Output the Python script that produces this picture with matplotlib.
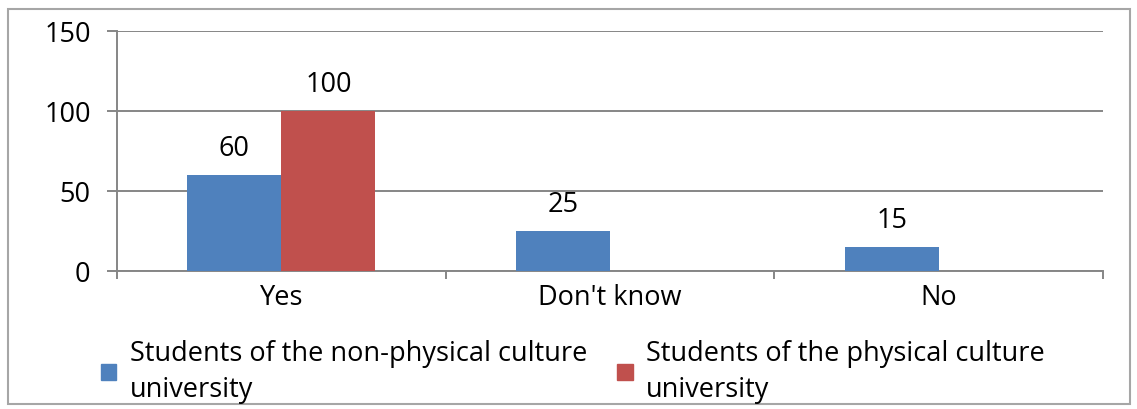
import matplotlib
matplotlib.use("Agg")
import matplotlib.pyplot as plt
from matplotlib.patches import Patch, Rectangle
import numpy as np

categories = ["Yes", "Don't know", "No"]
non_physical = [60, 25, 15]
physical = [100, 0, 0]
series_names = ["Students of the non-physical culture\nuniversity",
                "Students of the physical culture\nuniversity"]
yticks = [0, 50, 100, 150]

plt.rcParams['font.family'] = ['Open Sans', 'DejaVu Sans']
FS = 19.5
blue = "#4F81BD"
red = "#C0504D"
grid_c = "#868686"

fig = plt.figure(figsize=(11.37, 4.10), dpi=100)
fig.patches.append(Rectangle((8/1137, 5/410), 1122/1137, 395/410, transform=fig.transFigure,
                             fill=False, edgecolor="#A6A6A6", linewidth=1.5))
ax = fig.add_axes([117/1137, 138/410, 986/1137, 240/410])

x = np.arange(len(categories))
w = 0.286
b1 = ax.bar(x - w/2, non_physical, w, color=blue, zorder=3)
b2 = ax.bar(x + w/2, physical, w, color=red, zorder=3)
for bars, vals in ((b1, non_physical), (b2, physical)):
    for r, v in zip(bars, vals):
        if v:
            ax.annotate(str(v), (r.get_x() + r.get_width()/2, v), xytext=(0, 9),
                        textcoords="offset points", ha="center", va="bottom", fontsize=FS)

ax.set_xlim(-0.5, len(categories) - 0.5)
ax.set_ylim(0, 150)
ax.set_yticks(yticks)
ax.set_yticklabels([str(t) for t in yticks], fontsize=FS)
ax.yaxis.grid(True, color=grid_c, linewidth=1.4, zorder=0)
ax.set_xticks(x)
ax.set_xticklabels(categories, fontsize=FS)
ax.set_xticks(np.arange(len(categories) + 1) - 0.5, minor=True)
ax.tick_params(axis='x', which='major', length=0, pad=9)
ax.tick_params(axis='x', which='minor', length=6, width=1.4, color=grid_c, direction='out')
ax.tick_params(axis='y', length=7, width=1.4, color=grid_c, direction='out', pad=12)
for s in ("top", "right"):
    ax.spines[s].set_visible(False)
for s in ("left", "bottom"):
    ax.spines[s].set_color(grid_c)
    ax.spines[s].set_linewidth(1.4)

handles = [Patch(color=blue), Patch(color=red)]
leg = fig.legend(handles, series_names, loc="center left", bbox_to_anchor=(87/1137, 38/410),
                 ncol=2, frameon=False, fontsize=FS, handlelength=0.58, handleheight=0.55,
                 handletextpad=0.5, columnspacing=1.1, borderpad=0, labelspacing=0)
for t in leg.get_texts():
    t.set_linespacing(1.4)

fig.savefig("out.png", dpi=100)
